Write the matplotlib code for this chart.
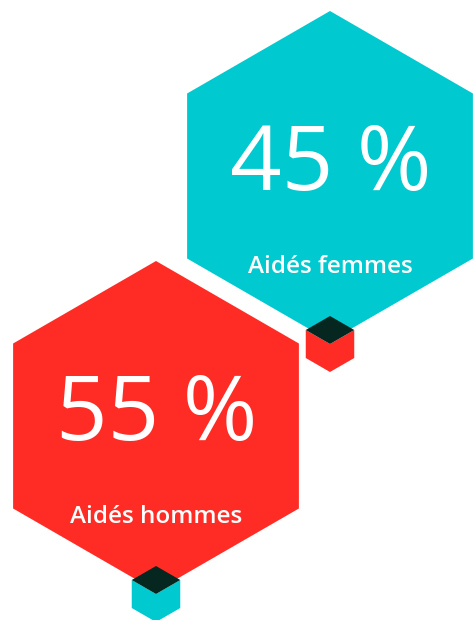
import numpy as np
import matplotlib
matplotlib.use("Agg")
import matplotlib.pyplot as plt
from matplotlib.patches import Polygon

# Data
categories = ["Aidés femmes", "Aidés hommes"]
values = [45, 55]
hex_colors = ["#00C9CF", "#FF2C26"]
cube_colors = ["#FF2C26", "#00C9CF"]
dark = "#05271F"

# Layout (pixel coordinates)
centers = [(330, 176), (156, 426)]
R = 165.0
W, H = 474, 620

fig = plt.figure(figsize=(W / 100, H / 100), dpi=100)
ax = fig.add_axes([0, 0, 1, 1])
ax.set_xlim(0, W)
ax.set_ylim(H, 0)
ax.axis("off")

def hexagon(cx, cy, r):
    angs = np.deg2rad(np.arange(6) * 60 - 90)
    return np.column_stack([cx + r * np.cos(angs), cy + r * np.sin(angs)])

for i, (cat, val) in enumerate(zip(categories, values)):
    cx, cy = centers[i]
    ax.add_patch(Polygon(hexagon(cx, cy, R), closed=True, facecolor=hex_colors[i],
                         edgecolor="none", zorder=1))
    # cube
    e = 28.0
    hw = e * np.cos(np.pi / 6)
    hh = e * 0.5
    ty = cy + 140
    top = [(cx, ty), (cx + hw, ty + hh), (cx, ty + 2 * hh), (cx - hw, ty + hh)]
    body = [(cx - hw, ty + hh), (cx, ty + 2 * hh), (cx + hw, ty + hh),
            (cx + hw, ty + hh + e), (cx, ty + 2 * hh + e), (cx - hw, ty + hh + e)]
    ax.add_patch(Polygon(body, closed=True, facecolor=cube_colors[i], edgecolor="none", zorder=2))
    ax.add_patch(Polygon(top, closed=True, facecolor=dark, edgecolor="none", zorder=3))
    ax.text(cx + 0.5, cy - 9, f"{val} %", ha="center", va="center", color="white",
            fontsize=65, family="Open Sans", zorder=4)
    ax.text(cx, cy + 97, cat, ha="center", va="baseline", color="white",
            fontsize=17.5, family="Open Sans", fontweight="semibold", zorder=4)

fig.savefig("out.png", dpi=100)
